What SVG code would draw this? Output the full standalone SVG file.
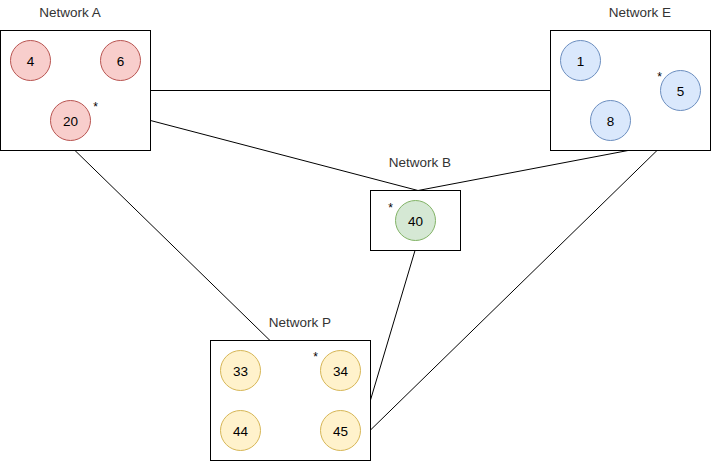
<svg xmlns="http://www.w3.org/2000/svg" width="711" height="461" viewBox="0 0 711 461">
<style>
.box{fill:#ffffff;stroke:#000000;stroke-width:1}
.lbl{font-family:"Liberation Sans",Arial,sans-serif;font-size:13.5px;fill:#333333;text-anchor:middle}
.num{font-family:"Liberation Sans",Arial,sans-serif;font-size:13.5px;fill:#000000;text-anchor:middle;dominant-baseline:central}
.star{font-family:"Liberation Sans",Arial,sans-serif;font-size:12px;fill:#000000;text-anchor:middle}
.red{fill:#f8cecc;stroke:#b85450}
.blue{fill:#dae8fc;stroke:#6c8ebf}
.green{fill:#d5e8d4;stroke:#82b366}
.yellow{fill:#fff2cc;stroke:#d6b656}
.edge{fill:none;stroke:#000000;stroke-width:1}
</style>
<rect width="711" height="461" fill="#ffffff"/>
<g id="connectors">
<path class="edge" d="M150.5 90.5 L550.5 90.5"/>
<path class="edge" d="M150.5 120.5 L418 190.5"/>
<path class="edge" d="M628 150.5 L418 190.5"/>
<path class="edge" d="M75 150.5 L270 340.5"/>
<path class="edge" d="M415 250.5 L370.5 400"/>
<path class="edge" d="M657 150.5 L370.5 430"/>
</g>
<g id="networkA">
<text class="lbl" x="70" y="16.5">Network A</text>
<rect class="box" x="0.5" y="30.5" width="150" height="120"/>
</g>
<g id="n4"><circle class="red" cx="30.5" cy="60.5" r="20"/><text class="num" x="30.5" y="61">4</text></g>
<g id="n6"><circle class="red" cx="120.5" cy="60.5" r="20"/><text class="num" x="120.5" y="61">6</text></g>
<g id="n20"><circle class="red" cx="70.5" cy="120.5" r="20"/><text class="num" x="70.5" y="121">20</text><text class="star" x="95.5" y="111">*</text></g>
<g id="networkE">
<text class="lbl" x="640" y="16.5">Network E</text>
<rect class="box" x="550.5" y="30.5" width="160" height="120"/>
</g>
<g id="n1"><circle class="blue" cx="580.5" cy="60.5" r="20"/><text class="num" x="580.5" y="61">1</text></g>
<g id="n5"><circle class="blue" cx="680.5" cy="90.5" r="20"/><text class="num" x="680.5" y="91">5</text><text class="star" x="659.5" y="81">*</text></g>
<g id="n8"><circle class="blue" cx="610.5" cy="120.5" r="20"/><text class="num" x="610.5" y="121">8</text></g>
<g id="networkB">
<text class="lbl" x="420" y="166.5">Network B</text>
<rect class="box" x="370.5" y="190.5" width="90" height="60"/>
</g>
<g id="n40"><circle class="green" cx="415.5" cy="220.5" r="20"/><text class="num" x="415.5" y="221">40</text><text class="star" x="390.5" y="212">*</text></g>
<g id="networkP">
<text class="lbl" x="300" y="326.5">Network P</text>
<rect class="box" x="210.5" y="340.5" width="160" height="120"/>
</g>
<g id="n33"><circle class="yellow" cx="240.5" cy="370.5" r="20"/><text class="num" x="240.5" y="371">33</text></g>
<g id="n34"><circle class="yellow" cx="340.5" cy="370.5" r="20"/><text class="num" x="340.5" y="371">34</text><text class="star" x="315.5" y="361">*</text></g>
<g id="n44"><circle class="yellow" cx="240.5" cy="430.5" r="20"/><text class="num" x="240.5" y="431">44</text></g>
<g id="n45"><circle class="yellow" cx="340.5" cy="430.5" r="20"/><text class="num" x="340.5" y="431">45</text></g>
</svg>
